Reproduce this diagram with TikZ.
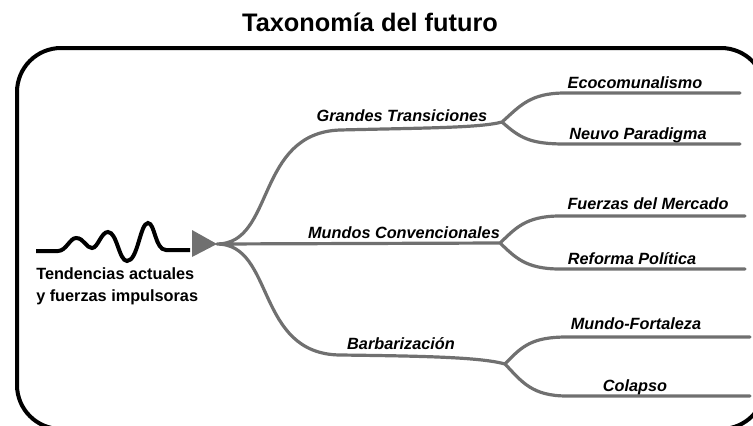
\documentclass[tikz,border=0pt]{standalone}
\usepackage{fontspec}
\setmainfont{Liberation Sans}
\usepackage{tikz}
\usetikzlibrary{positioning}

\definecolor{branchgray}{RGB}{112,112,112}

\begin{document}
\begin{tikzpicture}[x=0.75pt,y=-0.75pt,
    branch/.style={draw=branchgray,line width=2.4pt,line cap=round},
    lbl/.style={inner sep=0pt,anchor=base,font=\fontsize{12.2}{14}\selectfont\bfseries\itshape},
    trend/.style={inner sep=0pt,anchor=base west,font=\fontsize{12.2}{14}\selectfont\bfseries}]
  \useasboundingbox (0,0) rectangle (753,425);
  % frame, cut off at the right and bottom
  \begin{scope}
    \clip (0,0) rectangle (753,425);
    \draw[line width=3pt,rounded corners=33pt] (17,48) rectangle (765,429);
  \end{scope}
  \node[inner sep=0pt,anchor=base,font=\fontsize{19}{22}\selectfont\bfseries] (title) at (370,31) {Taxonomía del futuro};
  % driving forces
  \coordinate (S) at (36,251);
  \coordinate (W) at (190,250);
  \draw[line width=3pt] (S) -- (58,251) .. controls (66,251) and (70,238) .. (76,238)
      .. controls (84,238) and (86,248) .. (92,248) .. controls (98,248) and (101,232) .. (108,232)
      .. controls (117,232) and (119,261) .. (127,261) .. controls (138,261) and (140,223) .. (148,223)
      .. controls (155,223) and (155,250) .. (166,250) -- (W);
  \node[trend] (t1) at (36,279.5) {Tendencias actuales};
  \node[trend] (t2) at (36,301.5) {y fuerzas impulsoras};
  \fill[branchgray] (192,230) -- (217,244) -- (192,257) -- cycle;
  \coordinate (T) at (217,244);
  % branch points and ends
  \coordinate (G) at (502,122);
  \coordinate (M) at (500,243);
  \coordinate (B) at (505,364);
  \coordinate (G1) at (740,93);
  \coordinate (G2) at (740,144);
  \coordinate (M1) at (745,216);
  \coordinate (M2) at (745,269);
  \coordinate (B1) at (750,337);
  \coordinate (B2) at (750,396);
  \path[branch]
    (T) .. controls (275,244) and (255,133) .. (340,130) .. controls (420,128) and (480,128) .. (G)
    (T) -- (M)
    (T) .. controls (275,244) and (255,354) .. (340,355) .. controls (420,356) and (480,357) .. (B)
    (G) .. controls (520,106) and (530,93) .. (565,93) -- (G1)
    (G) .. controls (520,138) and (530,144) .. (565,144) -- (G2)
    (M) .. controls (515,229) and (525,216) .. (560,216) -- (M1)
    (M) .. controls (515,257) and (525,269) .. (560,269) -- (M2)
    (B) .. controls (522,346) and (532,337) .. (567,337) -- (B1)
    (B) .. controls (522,382) and (532,396) .. (567,396) -- (B2);
  \node[lbl] (gt) at (402,121.5) {Grandes Transiciones};
  \node[lbl] (mc) at (404,238.5) {Mundos Convencionales};
  \node[lbl] (bb) at (401,349.5) {Barbarización};
  \node[lbl] (eco) at (635,88.5) {Ecocomunalismo};
  \node[lbl] (np) at (638,139.5) {Neuvo Paradigma};
  \node[lbl] (fm) at (648,209.5) {Fuerzas del Mercado};
  \node[lbl] (rp) at (632,264.5) {Reforma Política};
  \node[lbl] (mf) at (636,329.5) {Mundo-Fortaleza};
  \node[lbl] (col) at (635,391.5) {Colapso};
\end{tikzpicture}
\end{document}
